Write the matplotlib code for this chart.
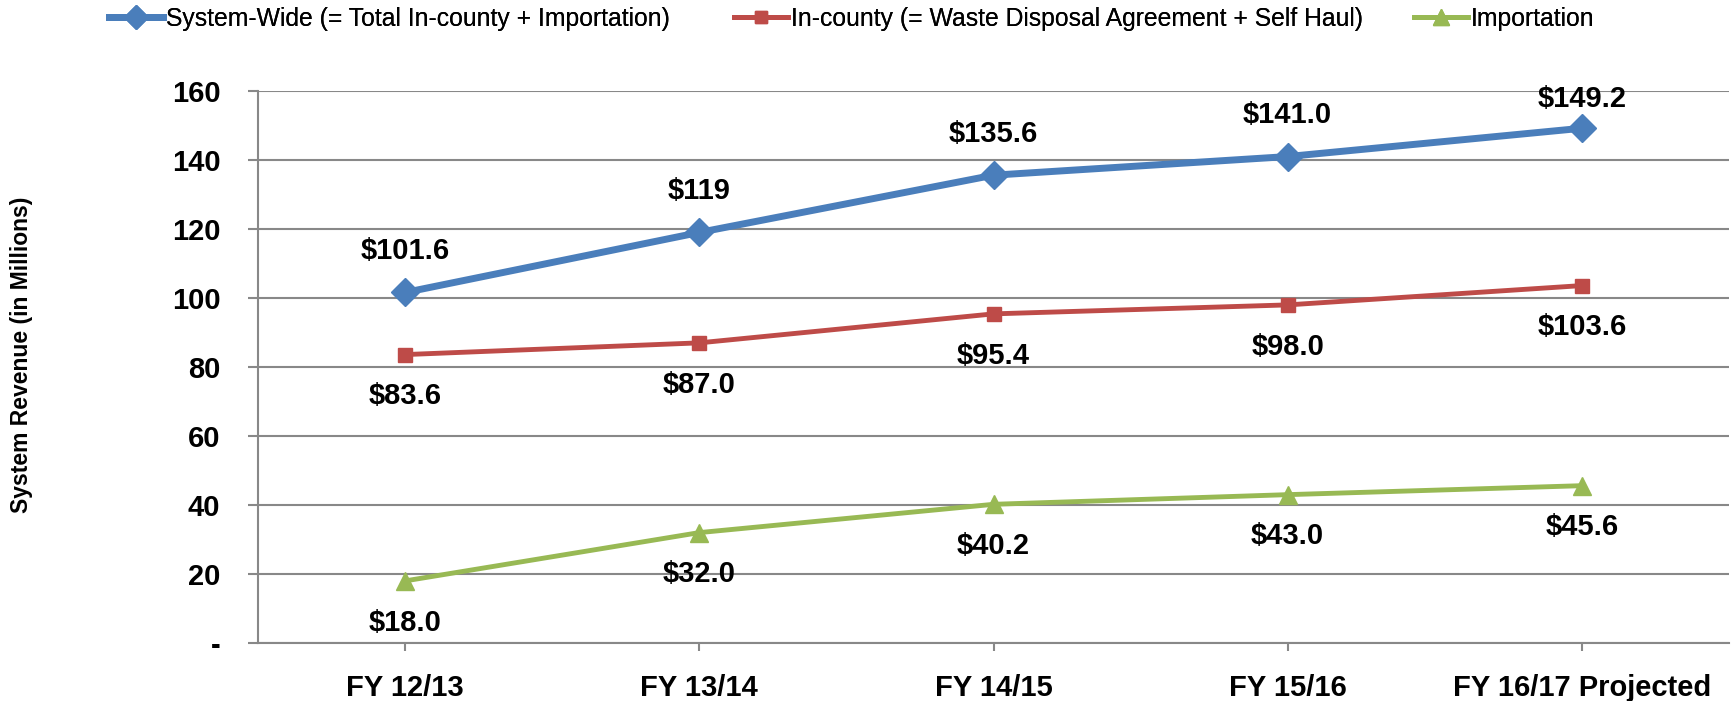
import matplotlib
matplotlib.use('agg')
import matplotlib.pyplot as plt
from matplotlib import font_manager
from matplotlib.lines import Line2D

# data (millions of dollars)
years = ["FY 12/13", "FY 13/14", "FY 14/15", "FY 15/16", "FY 16/17 Projected"]
system_wide = [101.6, 119, 135.6, 141.0, 149.2]
system_wide_lbl = ["$101.6", "$119", "$135.6", "$141.0", "$149.2"]
in_county = [83.6, 87.0, 95.4, 98.0, 103.6]
in_county_lbl = ["$83.6", "$87.0", "$95.4", "$98.0", "$103.6"]
importation = [18.0, 32.0, 40.2, 43.0, 45.6]
importation_lbl = ["$18.0", "$32.0", "$40.2", "$43.0", "$45.6"]
yticks = [0, 20, 40, 60, 80, 100, 120, 140, 160]
ytick_lbl = ["-", "20", "40", "60", "80", "100", "120", "140", "160"]

names = ["System-Wide (= Total In-county + Importation)",
         "In-county (= Waste Disposal Agreement + Self Haul)",
         "Importation"]

# narrow font to look a bit like Calibri
fam = "DejaVu Sans"
for f in ["Liberation Sans Narrow", "Liberation Sans"]:
    try:
        font_manager.findfont(f, fallback_to_default=False)
        fam = f
        break
    except Exception:
        pass
plt.rcParams['font.family'] = fam

BLUE = "#4A7EBB"
RED = "#BE4B48"
GREEN = "#98B954"
GRID = "#888888"

fig = plt.figure(figsize=(17.34, 7.01), dpi=100)
ax = fig.add_axes([258/1734, 1-643/701, (1729-258)/1734, (643-91)/701])

x = list(range(len(years)))
ax.plot(x, system_wide, color=BLUE, lw=5, marker="D", ms=14, zorder=5)
ax.plot(x, in_county, color=RED, lw=3.5, marker="s", ms=10, zorder=4)
ax.plot(x, importation, color=GREEN, lw=3.5, marker="^", ms=13, zorder=3)

# labels above the blue line; the last one is pulled down to stay inside the chart
for i, (xi, v, t) in enumerate(zip(x, system_wide, system_wide_lbl)):
    off = 21 if i == len(x) - 1 else 30
    ax.annotate(t, (xi, v), xytext=(0, off), textcoords="offset points",
                ha="center", va="center", fontsize=21, fontweight="bold")
for xi, v, t in zip(x, in_county, in_county_lbl):
    ax.annotate(t, (xi, v), xytext=(0, -30), textcoords="offset points",
                ha="center", va="center", fontsize=21, fontweight="bold")
for xi, v, t in zip(x, importation, importation_lbl):
    ax.annotate(t, (xi, v), xytext=(0, -30), textcoords="offset points",
                ha="center", va="center", fontsize=21, fontweight="bold")

ax.set_xlim(-0.5, 4.5)
ax.set_ylim(0, 160)
ax.set_yticks(yticks)
ax.set_yticklabels(ytick_lbl, fontsize=21, fontweight="bold")
ax.set_xticks(x)
ax.set_xticklabels(years, fontsize=21, fontweight="bold")
ax.yaxis.grid(True, color=GRID, lw=1.5)
ax.set_axisbelow(True)
for s in ["top", "right"]:
    ax.spines[s].set_visible(False)
for s in ["left", "bottom"]:
    ax.spines[s].set_color(GRID)
    ax.spines[s].set_linewidth(1.5)
ax.tick_params(axis="y", length=7, width=1.5, color=GRID, pad=20)
ax.tick_params(axis="x", length=6, width=1.5, color=GRID, pad=16)

fig.text(22/1734, 1-355/701, "System Revenue (in Millions)", rotation=90,
         ha="center", va="center", fontsize=16.5, fontweight="bold")

# legend: one entry each, placed like the original
handles = [
    Line2D([], [], color=BLUE, lw=5, marker="D", ms=12),
    Line2D([], [], color=RED, lw=3.5, marker="s", ms=9),
    Line2D([], [], color=GREEN, lw=3.5, marker="^", ms=11),
]
xs = [109/1734, 734/1734, 1414/1734]
for h, n, xl in zip(handles, names, xs):
    lg = fig.legend([h], [n], loc="center left", bbox_to_anchor=(xl, 1-19/701),
                    frameon=False, fontsize=17.8, handlelength=2.2,
                    handletextpad=0.1, borderpad=0, borderaxespad=0)
    fig.add_artist(lg)

fig.savefig("out.png", dpi=100)
